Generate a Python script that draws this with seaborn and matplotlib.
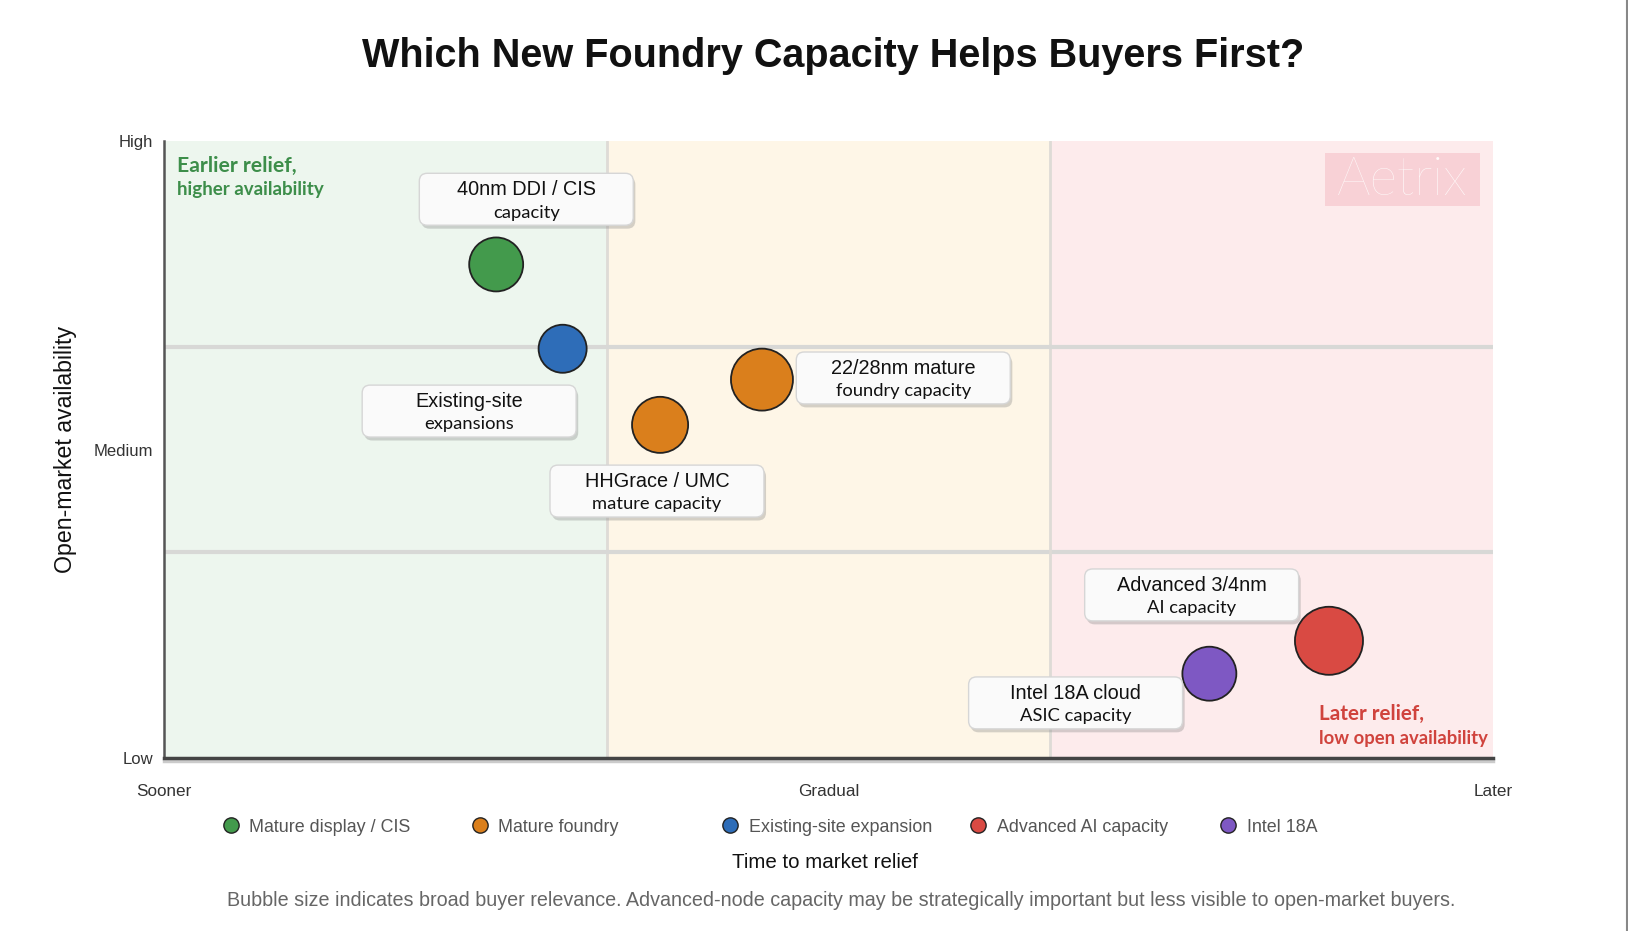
import pandas as pd
import numpy as np
import seaborn as sns
import matplotlib.pyplot as plt
import matplotlib.patheffects as pe
from matplotlib.patches import FancyBboxPatch, Rectangle
from matplotlib.lines import Line2D

# Dados
categories = ["Mature display / CIS", "Mature foundry", "Existing-site expansion",
              "Advanced AI capacity", "Intel 18A"]
cat_colors = ["#439a4c", "#da7f1c", "#2e6db8", "#d94a43", "#7e58c3"]

item_title = ["40nm DDI / CIS", "Existing-site", "22/28nm mature", "HHGrace / UMC",
              "Advanced 3/4nm", "Intel 18A cloud"]
item_sub = ["capacity", "expansions", "foundry capacity", "mature capacity",
            "AI capacity", "ASIC capacity"]
item_cat = ["Mature display / CIS", "Existing-site expansion", "Mature foundry",
            "Mature foundry", "Advanced AI capacity", "Intel 18A"]
time_to_relief = [0.75, 0.90, 1.35, 1.12, 2.63, 2.36]   # 0 = sooner, 3 = later
availability = [2.40, 1.99, 1.84, 1.62, 0.57, 0.41]     # 0 = low, 3 = high
relevance = [63, 50, 83, 68, 100, 63]                   # tamanho da bolha

x_ticks = ["Sooner", "Gradual", "Later"]
y_ticks = ["Low", "Medium", "High"]

# Posição das caixas de rótulo (layout)
label_pos = [(0.818, 2.717), (0.689, 1.687), (1.669, 1.848), (1.113, 1.298),
             (2.320, 0.793), (2.058, 0.268)]
# Posição (fração da figura) de cada item da legenda
legend_x = [0.1361, 0.2891, 0.4428, 0.5953, 0.7490]

df = pd.DataFrame({"x": time_to_relief, "y": availability, "cat": item_cat,
                   "rel": relevance})

sns.set_theme(style="white")
plt.rcParams["font.family"] = ["Liberation Sans", "DejaVu Sans"]

fig = plt.figure(figsize=(16.28, 9.31), dpi=100)
ax = fig.add_axes([0.1007, 0.1858, 0.8163, 0.6627])

# Zonas de fundo
ax.axvspan(0, 1, color="#edf6ee", zorder=0, lw=0)
ax.axvspan(1, 2, color="#fef6e7", zorder=0, lw=0)
ax.axvspan(2, 3, color="#fdebec", zorder=0, lw=0)
for v in [1, 2]:
    ax.axvline(v, color="#dedbd6", lw=2, zorder=1)
    ax.axhline(v, color="#d8d8d6", lw=3, zorder=1)

sns.scatterplot(data=df, x="x", y="y", hue="cat", size="rel",
                palette=dict(zip(categories, cat_colors)), sizes=(1197, 2401),
                edgecolor="#222222", linewidth=1.3, alpha=1, legend=False,
                zorder=4, ax=ax)

# Caixas de rótulo
bw, bh = 0.483, 0.2525
for (cx, cy), t1, t2 in zip(label_pos, item_title, item_sub):
    box = FancyBboxPatch((cx - bw / 2, cy - bh / 2), bw, bh,
                         boxstyle="round,pad=0,rounding_size=0.018",
                         mutation_aspect=2.15, facecolor="#fafafa",
                         edgecolor="#d6d6d6", lw=1, zorder=5)
    box.set_path_effects([pe.SimplePatchShadow(offset=(1.5, -2.5), shadow_rgbFace="#888888",
                                               alpha=0.35), pe.Normal()])
    ax.add_patch(box)
    ax.text(cx, cy + 0.045, t1, ha="center", va="center", fontsize=14.3,
            color="#111111", zorder=6)
    ax.text(cx, cy - 0.065, t2, ha="center", va="center", fontsize=13.2,
            family=["Lato", "DejaVu Sans"], color="#111111", zorder=6)

# Textos das zonas
lato = ["Lato", "DejaVu Sans"]
ax.text(0.0102, 0.96, "Earlier relief,", transform=ax.transAxes, fontsize=15.2,
        fontweight="bold", family=lato, color="#3d8e4a", va="center")
ax.text(0.0102, 0.921, "higher availability", transform=ax.transAxes, fontsize=13.5,
        fontweight="bold", family=lato, color="#3d8e4a", va="center")
ax.text(0.869, 0.0707, "Later relief,", transform=ax.transAxes, fontsize=14.9,
        fontweight="bold", family=lato, color="#d0433d", va="center")
ax.text(0.869, 0.032, "low open availability", transform=ax.transAxes, fontsize=13.3,
        fontweight="bold", family=lato, color="#d0433d", va="center")

# Marca d'água
ax.add_patch(Rectangle((0.874, 0.894), 0.1166, 0.087, transform=ax.transAxes,
                       facecolor="#f8d1d6", lw=0, zorder=2))
ax.text(0.932, 0.936, "Aetrix", transform=ax.transAxes, fontsize=38,
        fontweight="light", family=lato, color="#fffafa",
        ha="center", va="center", zorder=3)

ax.set_xlim(0, 3)
ax.set_ylim(0, 3)
ax.set_xticks([0, 1.5, 3])
ax.set_xticklabels(x_ticks)
ax.set_yticks([0, 1.5, 3])
ax.set_yticklabels(y_ticks)
ax.tick_params(axis="x", length=0, pad=19, labelsize=12.3, labelcolor="#333333")
ax.tick_params(axis="y", length=0, pad=8, labelsize=12, labelcolor="#333333")
ax.set_xlabel("")
ax.set_ylabel("Open-market availability", fontsize=16.7, color="#111111", labelpad=12)

for s in ["top", "right"]:
    ax.spines[s].set_visible(False)
ax.spines["left"].set_color("#555555")
ax.spines["left"].set_linewidth(1.8)
ax.spines["bottom"].set_color("#444444")
ax.spines["bottom"].set_linewidth(2.5)
ax.spines["bottom"].set_path_effects([pe.SimpleLineShadow(offset=(0, -2), shadow_color="#999999",
                                                          alpha=0.5), pe.Normal()])

# Legenda: um item por coluna de largura fixa
for lx, cat, c in zip(legend_x, categories, cat_colors):
    h = Line2D([], [], marker="o", ls="", markersize=11, markerfacecolor=c,
               markeredgecolor="#222222", markeredgewidth=1)
    fig.legend([h], [cat], loc="center left", bbox_to_anchor=(lx, 0.1117),
               frameon=False, fontsize=12.9, labelcolor="#555555", handletextpad=0.55,
               handlelength=1.0, borderpad=0, borderaxespad=0)

fig.text(0.507, 1 - 863 / 931, "Time to market relief", ha="center", va="center",
         fontsize=14.8, color="#111111")
fig.text(0.517, 1 - 901 / 931,
         "Bubble size indicates broad buyer relevance. Advanced-node capacity may be "
         "strategically important but less visible to open-market buyers.",
         ha="center", va="center", fontsize=14.2, color="#666666")
fig.suptitle("Which New Foundry Capacity Helps Buyers First?", x=0.512, y=1 - 56 / 931,
             va="center", fontsize=28.5, fontweight="bold", color="#111111")

fig.add_artist(Line2D([0.9992, 0.9992], [0, 1], transform=fig.transFigure,
                      color="#888888", lw=1.5))

fig.savefig("out.png", dpi=100)
